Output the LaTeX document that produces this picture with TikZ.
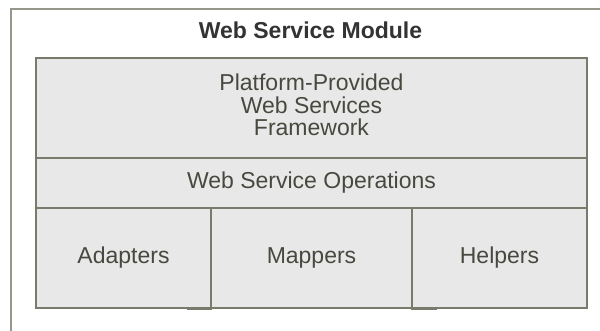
\documentclass[tikz,border=0pt]{standalone}
\usepackage{fontspec}
\setmainfont{Liberation Sans}
\usepackage{tikz}
\usetikzlibrary{positioning}

\definecolor{edgegray}{RGB}{122,122,108}
\definecolor{framegray}{RGB}{150,150,138}
\definecolor{boxfill}{RGB}{232,232,232}
\definecolor{textgray}{RGB}{72,72,64}

\begin{document}
\begin{tikzpicture}[x=1pt,y=-1pt,
    part/.style={draw=edgegray,fill=boxfill,line width=1.5pt,inner sep=0pt,
        text=textgray,font=\fontsize{23}{22.5}\selectfont,align=center},
    label/.style={text=textgray,inner sep=0pt,align=center}]
\useasboundingbox (0,0) rectangle (600,331);
% outer module frame, cut off at right and bottom
\coordinate (fr) at (600,9);
\coordinate (fc) at (11,9);
\coordinate (fb) at (11,331);
\draw[framegray,line width=2pt] (fr)--(fc)--(fb);
\node[label,font=\fontsize{23}{24}\selectfont\bfseries,text=black!80] (title) at (310.5,30) {Web Service Module};
% stacked parts
\node[part,minimum width=551pt,minimum height=100pt] (framework) at (311.5,108) {};
\node[label,font=\fontsize{23}{22.5}\selectfont] (frameworktext) at (311.5,105) {Platform-Provided\\Web Services\\Framework};
\node[part,minimum width=551pt,minimum height=50pt] (operations) at (311.5,183) {Web Service Operations};
\node[part,minimum width=175pt,minimum height=100pt] (adapters) at (123.5,258) {Adapters};
\node[part,minimum width=201pt,minimum height=100pt] (mappers) at (311.5,258) {Mappers};
\node[part,minimum width=175pt,minimum height=100pt] (helpers) at (499.5,258) {Helpers};
% small ticks under the dividers
\coordinate (ta) at (187,308.8);
\coordinate (tb) at (437,308.8);
\draw[edgegray,line width=1.5pt] (ta)--(adapters.south east|-ta);
\draw[edgegray,line width=1.5pt] (helpers.south west|-tb)--(tb);
\end{tikzpicture}
\end{document}
